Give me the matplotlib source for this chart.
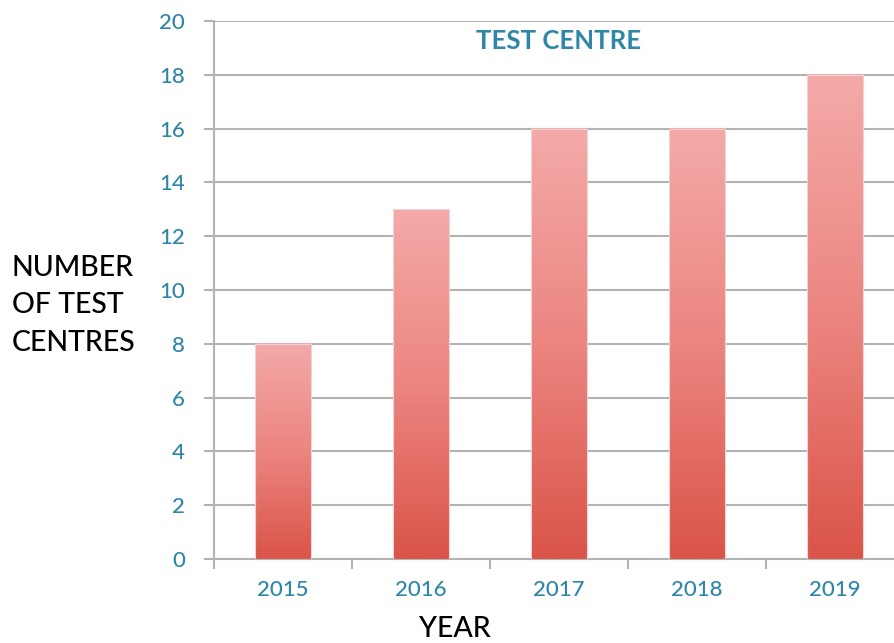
import matplotlib
matplotlib.use("Agg")
import matplotlib.pyplot as plt
import numpy as np
from matplotlib.colors import LinearSegmentedColormap

years = ["2015", "2016", "2017", "2018", "2019"]
centres = [8, 13, 16, 16, 18]
y_ticks = [0, 2, 4, 6, 8, 10, 12, 14, 16, 18, 20]

teal = "#2f86a6"
grid_gray = "#b3b3b3"
bar_cmap = LinearSegmentedColormap.from_list("bar", ["#da5449", "#ec8580", "#f4aaa9"])

plt.rcParams['font.family'] = ['Lato', 'DejaVu Sans']

fig = plt.figure(figsize=(8.94, 6.43), dpi=100)
ax = fig.add_axes([0.2394, 0.1306, 0.7718, 0.8367])

x = np.arange(len(years))
width = 0.41
bars = ax.bar(x, centres, width=width, color="none", zorder=3)

# vertical gradient in each bar, light at top and dark at bottom
grad = np.linspace(0, 1, 256).reshape(-1, 1)
for b in bars:
    x0 = b.get_x()
    h = b.get_height()
    ax.imshow(grad, cmap=bar_cmap, origin="lower", aspect="auto",
              extent=(x0, x0 + b.get_width(), 0, h), zorder=3)
    ax.add_patch(plt.Rectangle((x0, 0), b.get_width(), h, fill=False,
                               edgecolor="#e8d6d6", linewidth=0.8, zorder=4))

ax.set_xlim(-0.5, len(years) - 0.5)
ax.set_ylim(0, 20)
ax.set_yticks(y_ticks)
ax.yaxis.grid(True, color=grid_gray, linewidth=1.5, zorder=0)
ax.set_axisbelow(True)

# category labels at centres, tick marks at boundaries
ax.set_xticks(x)
ax.set_xticklabels(years)
ax.set_xticks(np.arange(len(years) + 1) - 0.5, minor=True)
ax.tick_params(axis="x", which="major", length=0, pad=15, labelsize=16, labelcolor=teal)
ax.tick_params(axis="x", which="minor", length=7, width=1.5, color=grid_gray)
ax.tick_params(axis="y", length=7, width=1.5, color=grid_gray, pad=14,
               labelsize=16, labelcolor=teal)
for lbl in ax.get_xticklabels() + ax.get_yticklabels():
    lbl.set_fontweight("medium")

for s in ["top", "right"]:
    ax.spines[s].set_visible(False)
for s in ["left", "bottom"]:
    ax.spines[s].set_color(grid_gray)
    ax.spines[s].set_linewidth(1.5)

ax.text(0.5, 0.963, "TEST CENTRE", transform=ax.transAxes, ha="center", va="center",
        fontsize=18.5, fontweight="bold", color=teal)

fig.text(0.013, 0.525, "NUMBER\nOF TEST\nCENTRES", ha="left", va="center",
         fontsize=20.5, fontweight="medium", color="black", linespacing=1.55)
fig.text(0.509, 0.002, "YEAR", ha="center", va="bottom", fontsize=20.5,
         fontweight="medium", color="black")

fig.savefig("out.png", dpi=100)
